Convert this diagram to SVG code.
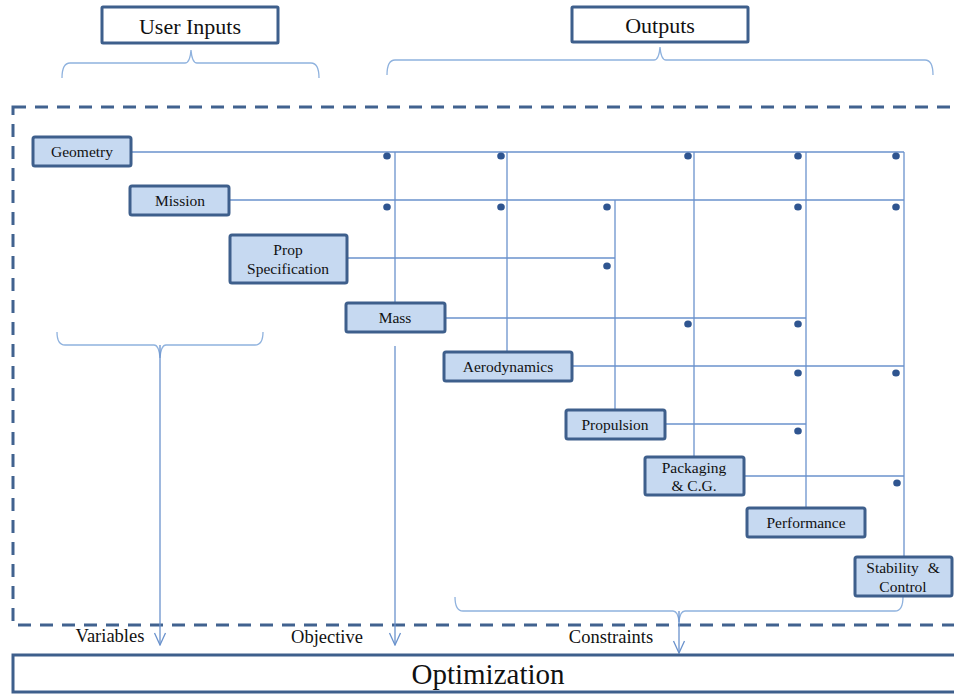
<svg xmlns="http://www.w3.org/2000/svg" width="954" height="694" viewBox="0 0 954 694">
  <defs>
    <marker id="vee" viewBox="-13 -7 14 14" refX="0" refY="0" markerWidth="14" markerHeight="14" markerUnits="userSpaceOnUse" orient="auto">
      <path d="M-12,-5.5 L0,0 L-12,5.5" fill="none" stroke="#6a92cc" stroke-width="1.3"/>
    </marker>
  </defs>

  <rect width="954" height="694" fill="#ffffff"/>

  <!-- analysis frame -->
  <rect x="13" y="107" width="960" height="518" fill="none" stroke="#41628f" stroke-width="3" stroke-dasharray="13 9"/>

  <!-- headers -->
  <g fill="#ffffff" stroke="#3e5f8c" stroke-width="3">
    <rect id="user-inputs-box" x="102" y="7" width="176" height="36" rx="1"/>
    <rect id="outputs-box" x="572" y="7" width="176" height="35" rx="1"/>
  </g>
  <text id="user-inputs" x="190" y="34" style="font-family: 'Liberation Serif', 'Times New Roman', 'DejaVu Serif', serif; font-size: 22px" text-anchor="middle" fill="#111111">User Inputs</text>
  <text id="outputs" x="660" y="33" style="font-family: 'Liberation Serif', 'Times New Roman', 'DejaVu Serif', serif; font-size: 22px" text-anchor="middle" fill="#111111">Outputs</text>

  <!-- connectors -->
  <g id="connectors">
    <!-- braces -->
    <g fill="none" stroke="#8fb2de" stroke-width="1.3">
      <path d="M62,78 Q62,63 70,63 L185,63 Q190,63 191,50 Q192,63 197,63 L311,63 Q319,63 319,78"/>
      <path d="M387,75 Q387,60 395,60 L654,60 Q659,60 660,47 Q661,60 666,60 L925,60 Q933,60 933,75"/>
      <path d="M57,332 Q57,345 65,345 L154,345 Q159,345 160,358 Q161,345 166,345 L255,345 Q263,345 263,332"/>
      <path d="M455,597 Q455,611 463,611 L673,611 Q678,611 679,622 Q680,611 685,611 L895,611 Q903,611 903,597"/>
    </g>

    <g fill="none" stroke="#6a92cc" stroke-width="1.3">
      <!-- outputs towards optimization -->
      <line x1="160" y1="345" x2="160" y2="645" marker-end="url(#vee)"/>
      <line x1="395" y1="346" x2="395" y2="645" marker-end="url(#vee)"/>
      <line x1="679" y1="611" x2="679" y2="653" marker-end="url(#vee)"/>

      <!-- horizontal feeds -->
      <line x1="131" y1="152" x2="904" y2="152"/>
      <line x1="229" y1="200" x2="904" y2="200"/>
      <line x1="347" y1="258" x2="615" y2="258"/>
      <line x1="445" y1="318" x2="806" y2="318"/>
      <line x1="572" y1="366" x2="904" y2="366"/>
      <line x1="665" y1="424" x2="806" y2="424"/>
      <line x1="744" y1="476" x2="904" y2="476"/>

      <!-- vertical feeds -->
      <line x1="395" y1="152" x2="395" y2="303"/>
      <line x1="507" y1="152" x2="507" y2="351"/>
      <line x1="615" y1="200" x2="615" y2="409"/>
      <line x1="694" y1="152" x2="694" y2="456"/>
      <line x1="806" y1="152" x2="806" y2="507"/>
      <line x1="904" y1="152" x2="904" y2="556"/>
    </g>

    <!-- coupling dots -->
    <g fill="#2f5590">
      <ellipse cx="387" cy="156" rx="3.8" ry="3.5"/>
      <ellipse cx="501" cy="156" rx="3.8" ry="3.5"/>
      <ellipse cx="688" cy="156" rx="3.8" ry="3.5"/>
      <ellipse cx="798" cy="156" rx="3.8" ry="3.5"/>
      <ellipse cx="896" cy="156" rx="3.8" ry="3.5"/>
      <ellipse cx="387" cy="207" rx="3.8" ry="3.5"/>
      <ellipse cx="501" cy="207" rx="3.8" ry="3.5"/>
      <ellipse cx="607" cy="207" rx="3.8" ry="3.5"/>
      <ellipse cx="798" cy="207" rx="3.8" ry="3.5"/>
      <ellipse cx="896" cy="207" rx="3.8" ry="3.5"/>
      <ellipse cx="607" cy="266" rx="3.8" ry="3.5"/>
      <ellipse cx="688" cy="324" rx="3.8" ry="3.5"/>
      <ellipse cx="798" cy="324" rx="3.8" ry="3.5"/>
      <ellipse cx="798" cy="373" rx="3.8" ry="3.5"/>
      <ellipse cx="896" cy="373" rx="3.8" ry="3.5"/>
      <ellipse cx="798" cy="431" rx="3.8" ry="3.5"/>
      <ellipse cx="897" cy="483" rx="3.8" ry="3.5"/>
    </g>
  </g>

  <!-- analysis modules -->
  <g style="font-family: 'Liberation Serif', 'Times New Roman', 'DejaVu Serif', serif; font-size: 15.5px" text-anchor="middle">
    <g id="geometry">
      <rect x="33" y="137" width="98" height="29" rx="2" fill="#c6d9f1" stroke="#3e5f8c" stroke-width="3"/>
      <text x="82" y="157" fill="#111111">Geometry</text>
    </g>
    <g id="mission">
      <rect x="130" y="186" width="99" height="29" rx="2" fill="#c6d9f1" stroke="#3e5f8c" stroke-width="3"/>
      <text x="180" y="206" fill="#111111">Mission</text>
    </g>
    <g id="prop-specification">
      <rect x="230" y="235" width="117" height="48" rx="2" fill="#c6d9f1" stroke="#3e5f8c" stroke-width="3"/>
      <text x="288" y="255" fill="#111111">Prop</text>
      <text x="288" y="274" fill="#111111">Specification</text>
    </g>
    <g id="mass">
      <rect x="346" y="303" width="99" height="29" rx="2" fill="#c6d9f1" stroke="#3e5f8c" stroke-width="3"/>
      <text x="395" y="323" fill="#111111">Mass</text>
    </g>
    <g id="aerodynamics">
      <rect x="444" y="352" width="128" height="29" rx="2" fill="#c6d9f1" stroke="#3e5f8c" stroke-width="3"/>
      <text x="508" y="372" fill="#111111">Aerodynamics</text>
    </g>
    <g id="propulsion">
      <rect x="566" y="410" width="99" height="29" rx="2" fill="#c6d9f1" stroke="#3e5f8c" stroke-width="3"/>
      <text x="615" y="430" fill="#111111">Propulsion</text>
    </g>
    <g id="packaging-cg">
      <rect x="645" y="457" width="99" height="38" rx="2" fill="#c6d9f1" stroke="#3e5f8c" stroke-width="3"/>
      <text x="694" y="473" fill="#111111">Packaging</text>
      <text x="694" y="491" fill="#111111">&amp; C.G.</text>
    </g>
    <g id="performance">
      <rect x="747" y="508" width="118" height="29" rx="2" fill="#c6d9f1" stroke="#3e5f8c" stroke-width="3"/>
      <text x="806" y="528" fill="#111111">Performance</text>
    </g>
    <g id="stability-control">
      <rect x="855" y="557" width="97" height="39" rx="2" fill="#c6d9f1" stroke="#3e5f8c" stroke-width="3"/>
      <text x="903" y="573" fill="#111111" word-spacing="5">Stability &amp;</text>
      <text x="903" y="592" fill="#111111">Control</text>
    </g>
  </g>

  <!-- optimizer inputs -->
  <g style="font-family: 'Liberation Serif', 'Times New Roman', 'DejaVu Serif', serif; font-size: 18.5px" text-anchor="middle" fill="#111111">
    <text x="110" y="642">Variables</text>
    <text x="327" y="643">Objective</text>
    <text x="611" y="643">Constraints</text>
  </g>

  <g id="optimization">
    <rect x="13" y="655" width="960" height="37" fill="#ffffff" stroke="#3e5f8c" stroke-width="3"/>
    <text x="488" y="684" style="font-family: 'Liberation Serif', 'Times New Roman', 'DejaVu Serif', serif; font-size: 29px" text-anchor="middle" fill="#111111">Optimization</text>
  </g>
</svg>
